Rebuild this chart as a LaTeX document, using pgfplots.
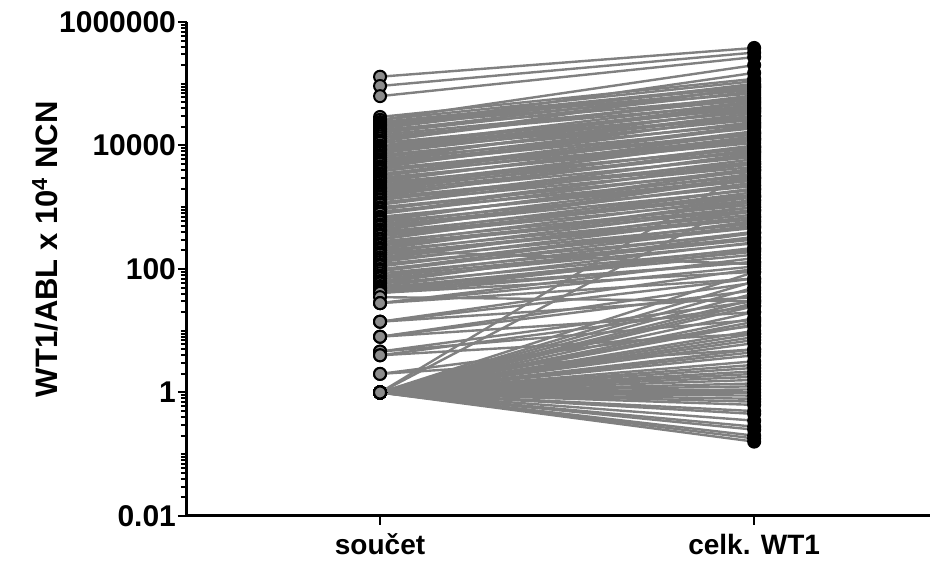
\documentclass[border=0pt]{standalone}
\usepackage{pgfplots}
\usepackage{pgfplotstable}
\usepackage{fontspec}
\setmainfont{Liberation Sans}
\pgfplotsset{compat=1.18}
\definecolor{linegray}{RGB}{128,128,128}
\definecolor{markgray}{RGB}{140,140,140}
\pgfplotstableread{
L R
130000 380000
92000 320000
63000 270000
26000 200000
29000 120000
26000 110000
24000 95000
23000 90000
22000 80000
21000 70000
20000 150000
19000 100000
18000 60000
17000 85000
16000 75000
15000 55000
14000 48000
13000 58000
12000 65000
11500 90000
11000 40000
10000 52000
9800 45000
9500 35000
9000 42000
8600 36000
8200 30000
7800 50000
7500 38000
7000 26000
6800 30000
6400 33000
6000 22000
5800 40000
5500 28000
5200 23000
5000 19000
4600 24000
4400 30000
4200 16000
3900 15000
3800 21000
3500 13000
3400 20000
3200 17000
3000 11000
2900 12500
2700 14000
2600 16000
2500 9000
2300 12000
2200 9500
2100 7800
2000 13000
1900 10000
1800 8000
1700 6500
1600 8500
1500 9500
1450 5400
1350 5000
1300 7000
1200 4500
1150 7500
1100 6000
1000 3800
950 4000
920 5000
850 3200
800 5500
780 4200
700 2700
680 3000
640 3500
600 4000
580 2200
530 2900
500 2300
480 1900
440 2500
420 3000
400 1600
370 2000
360 1500
340 1300
310 1750
300 2000
280 1100
260 1450
250 1000
240 900
220 1200
210 1300
200 760
200 120
185 1000
175 700
170 640
155 850
145 900
140 540
130 700
120 460
115 500
110 580
100 380
95 600
92 480
85 320
78 400
75 300
70 260
64 330
60 380
58 210
53 270
50 190
48 170
45 130
44 220
41 200
41 130
41 90
35 30
28 150
28 110
28 70
14 100
14 70
14 35
8 60
8 45
8 20
4.6 30
4.6 15
4 25
4 9
2 12
2 5
1 89
1 63
1 50
1 40
1 32
1 28
1 25
1 20
1 16
1 14
1 12.6
1 10
1 8.9
1 7.9
1 7.1
1 6.3
1 5
1 4.5
1 4
1 3.2
1 2.8
1 2.5
1 2.2
1 2
1 1.8
1 1.6
1 1.4
1 1.26
1 1.12
1 1
1 0.89
1 0.79
1 0.71
1 0.63
1 0.5
1 0.45
1 0.35
1 0.28
1 0.25
1 0.2
1 0.18
1 0.16
1 4500
1 1500
}\pairs
\begin{document}
\begin{tikzpicture}
\pgfplotstablegetrowsof{\pairs}
\pgfmathtruncatemacro{\lastrow}{\pgfplotsretval-1}
\begin{axis}[
  at={(93.5pt,22pt)}, anchor=south west,
  scale only axis, width=371.5pt, height=247pt,
  xmin=-0.516, xmax=1.47,
  ymode=log, ymin=0.01, ymax=1000000,
  axis x line*=bottom, axis y line*=left,
  axis line style={line width=1.5pt},
  xtick={0,1}, xticklabels={součet, celk. WT1},
  ytick={0.01,1,100,10000,1000000},
  yticklabels={0.01,1,100,10000,1000000},
  minor ytick={0.02,0.03,0.04,0.05,0.06,0.07,0.08,0.09,0.1,0.2,0.3,0.4,0.5,0.6,0.7,0.8,0.9,2,3,4,5,6,7,8,9,10,20,30,40,50,60,70,80,90,200,300,400,500,600,700,800,900,1000,2000,3000,4000,5000,6000,7000,8000,9000,20000,30000,40000,50000,60000,70000,80000,90000,100000,200000,300000,400000,500000,600000,700000,800000,900000},
  tick align=outside,
  major tick length=4.5pt, minor tick length=3pt,
  every tick/.style={black, line width=1pt},
  yticklabel style={font=\bfseries\fontsize{15}{18}\selectfont, xshift=2.5pt},
  xticklabel style={font=\bfseries\fontsize{14}{17}\selectfont, yshift=-1pt},
  ylabel={WT1/ABL x 10\textsuperscript{4} NCN},
  ylabel style={font=\bfseries\fontsize{15.5}{18}\selectfont, at={(axis description cs:-0.191,0.54)}, anchor=center},
  clip=false,
]
\addplot[only marks, mark=*, mark size=3pt, mark options={fill=markgray, draw=black, line width=1pt}] table[x expr=0, y=L] {\pairs};
\pgfplotsforeachungrouped \i in {0,...,\lastrow}{%
  \pgfplotstablegetelem{\i}{L}\of\pairs \let\va\pgfplotsretval
  \pgfplotstablegetelem{\i}{R}\of\pairs \let\vb\pgfplotsretval
  \edef\tmp{\noexpand\addplot[linegray, line width=1.2pt, forget plot] coordinates {(0,\va) (1,\vb)};}\tmp
}
\addplot[only marks, mark=*, mark size=3pt, mark options={fill=black, draw=black, line width=1pt}] table[x expr=1, y=R] {\pairs};
\end{axis}
\path (0,0) rectangle (466.5pt,280pt);
\end{tikzpicture}
\end{document}
